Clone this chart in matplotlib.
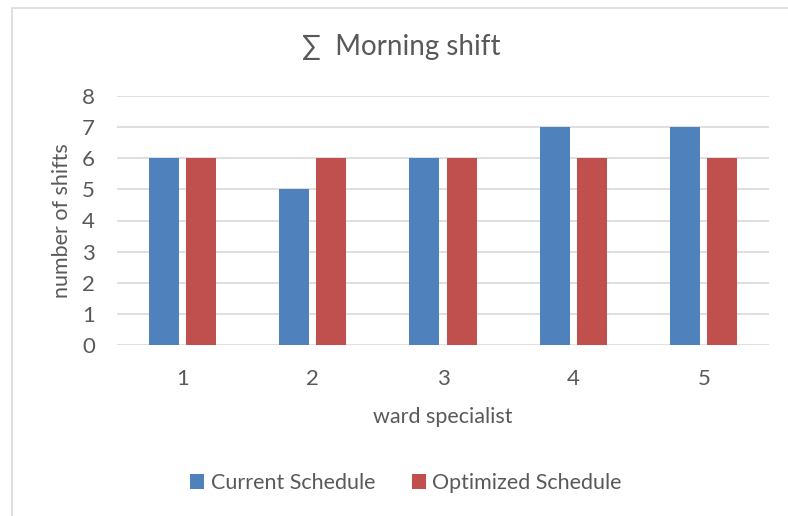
import numpy as np
import matplotlib.pyplot as plt
from matplotlib.patches import Rectangle

# data
wards = ['1', '2', '3', '4', '5']
current = [6, 5, 6, 7, 7]
optimized = [6, 6, 6, 6, 6]

plt.rcParams['font.family'] = ['Lato', 'DejaVu Sans']
text_col = '#595959'

W, H = 788, 516
fig = plt.figure(figsize=(W / 100, H / 100), dpi=100)
fig.patch.set_facecolor('white')

# chart border (Excel style, cropped at right/bottom)
fig.add_artist(Rectangle((12 / W, -0.05), 1.2, 1 - 7.5 / H + 0.05,
                         transform=fig.transFigure, fill=False,
                         edgecolor='#d9d9d9', linewidth=1.2))

ax = fig.add_axes([117 / W, 1 - 345 / H, (769 - 117) / W, (345 - 96) / H])

x = np.arange(len(wards))
w = 0.23
off = 0.142
ax.bar(x - off, current, w, color='#4f81bd', label='Current Schedule', zorder=3)
ax.bar(x + off, optimized, w, color='#c0504d', label='Optimized Schedule', zorder=3)

ax.set_xlim(-0.5, len(wards) - 0.5)
ax.set_ylim(0, 8)
ax.set_yticks(range(0, 9))
ax.set_xticks(x)
ax.set_xticklabels(wards)
ax.grid(axis='y', color='#d9d9d9', linewidth=1.2, zorder=0)
for s in ax.spines.values():
    s.set_visible(False)
ax.tick_params(length=0, labelsize=16, colors=text_col)
ax.tick_params(axis='x', pad=17)
ax.tick_params(axis='y', pad=16)

ax.set_xlabel('ward specialist', fontsize=15.5, color=text_col, labelpad=13)
ax.set_ylabel('number of shifts', fontsize=15.5, color=text_col, labelpad=7)

fig.text(401 / W, 1 - 47 / H, '∑  Morning shift', ha='center', va='center',
         fontsize=20, color=text_col)

fig.legend(loc='center', bbox_to_anchor=(406 / W, 1 - 483 / H), ncol=2,
           frameon=False, fontsize=15.5, labelcolor=text_col,
           handlelength=0.65, handleheight=0.65, handletextpad=0.3,
           columnspacing=1.7)

fig.savefig('out.png', dpi=100)
